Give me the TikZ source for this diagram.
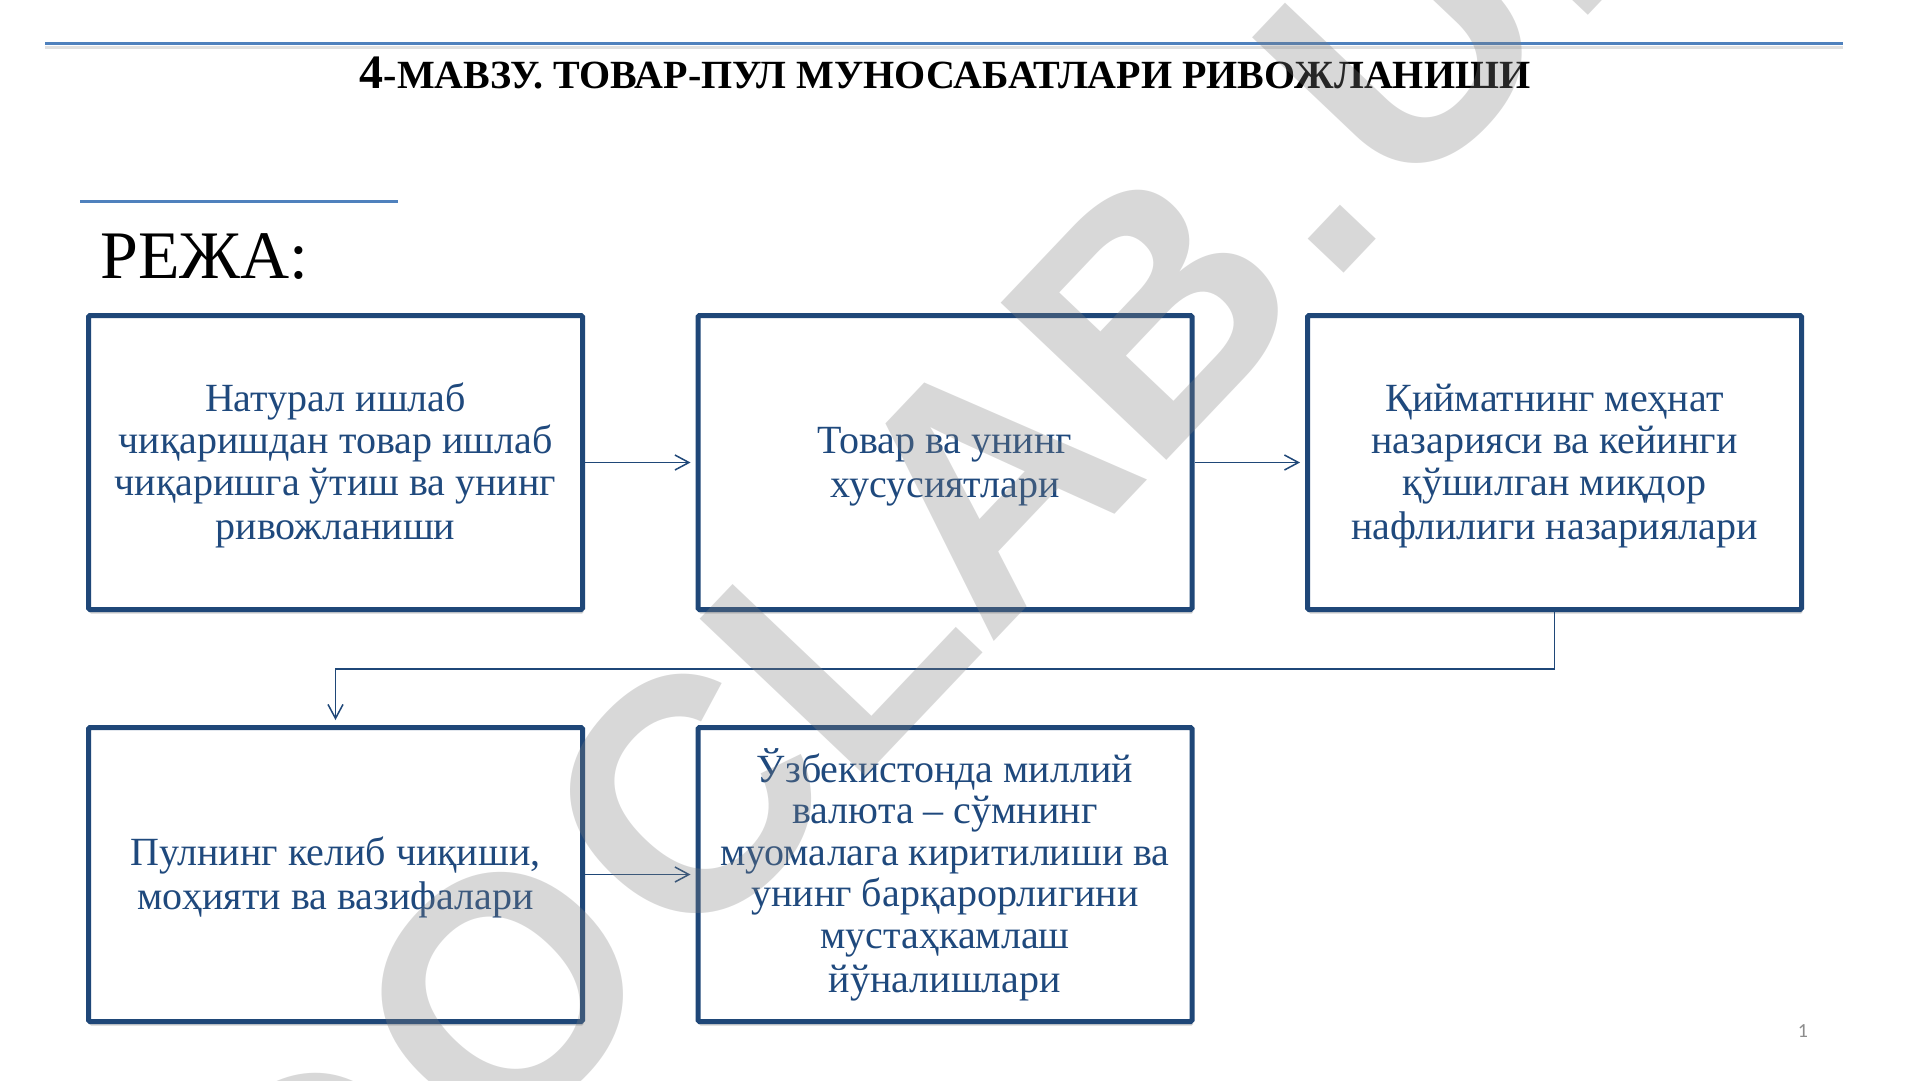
\documentclass[tikz,border=0pt]{standalone}
\usepackage{fontspec}
\setmainfont{Liberation Serif}
\newfontfamily\wmfont{Liberation Sans}
\newfontfamily\pgfont{Carlito}
\usetikzlibrary{arrows.meta,shadows}
\definecolor{navy}{HTML}{1F4778}
\definecolor{txtblue}{HTML}{1F497D}
\definecolor{linkblue}{HTML}{4F81BD}
\definecolor{numgray}{HTML}{8C8C8C}
\newcommand\linestrut{\rule[-7pt]{0pt}{41.6pt}}
\tikzset{
  planbox/.style={draw=navy, line width=5pt, fill=white, rounded corners=1.5pt,
    minimum width=494pt, minimum height=294pt, inner sep=0pt, align=center,
    text=txtblue, font=\fontsize{40}{41.6}\selectfont,
    drop shadow={shadow xshift=1pt, shadow yshift=-4pt, opacity=0.18, fill=black}},
  link/.style={draw=navy, line width=1.5pt, -{Straight Barb[length=14pt,width=15pt,line width=1.5pt]}, shorten >=5pt},
  watermark/.style={anchor=base west, inner sep=0pt, rotate=46.5, text=gray, text opacity=0.3}
}
\begin{document}
\begin{tikzpicture}[x=1pt,y=-1pt]
\useasboundingbox (0,0) rectangle (1920,1080);
\clip (0,0) rectangle (1920,1080);
\fill[white] (0,0) rectangle (1920,1080);
% header rules
\draw[black!12, line width=3pt] (45,47) -- (1843,47);
\draw[linkblue, line width=2.2pt] (45,43.5) -- (1843,43.5);
\node[anchor=base, inner sep=0pt, font=\bfseries] (title) at (945,88)
  {\fontsize{48}{48}\selectfont 4\fontsize{40}{40}\selectfont-МАВЗУ. ТОВАР-ПУЛ МУНОСАБАТЛАРИ РИВОЖЛАНИШИ};
\draw[linkblue, line width=3.5pt] (80,201.5) -- (398,201.5);
\node[anchor=base west, inner sep=0pt] (reja) at (100,278) {\fontsize{68}{68}\selectfont РЕЖА:};
% boxes
\node[planbox] (b1) at (335.5,462.5) {\linestrut Натурал ишлаб\\чиқаришдан товар ишлаб\\чиқаришга ўтиш ва унинг\\ривожланиши\linestrut};
\node[planbox] (b2) at (945,462.5) {\linestrut Товар ва унинг\\хусусиятлари\linestrut};
\node[planbox] (b3) at (1554.5,462.5) {\linestrut Қийматнинг меҳнат\\назарияси ва кейинги\\қўшилган миқдор\\нафлилиги назариялари\linestrut};
\node[planbox] (b4) at (335.5,874.5) {\linestrut Пулнинг келиб чиқиши,\\моҳияти ва вазифалари\linestrut};
\node[planbox] (b5) at (945,874.5) {\linestrut Ўзбекистонда миллий\\валюта – сўмнинг\\муомалага киритилиши ва\\унинг барқарорлигини\\мустаҳкамлаш\\йўналишлари\linestrut};
% connectors
\coordinate (turn) at (1554.5,669);
\draw[link] (b1.east) -- (b2.west);
\draw[link] (b2.east) -- (b3.west);
\draw[link] (b3.south) -- (turn) -| (b4.north);
\draw[link] (b4.east) -- (b5.west);
% watermark
\node[watermark] (wm) at (320,1352)
  {\wmfont\bfseries\fontsize{332}{332}\selectfont D\kern18pt O\kern18pt C\kern-3pt L\kern-3pt A\kern-3pt B\kern18pt .\kern18pt U\kern18pt Z};
% page number
\node[anchor=base, inner sep=0pt, text=numgray] (pg) at (1803,1037) {\pgfont\fontsize{20}{20}\selectfont 1};
\end{tikzpicture}
\end{document}
